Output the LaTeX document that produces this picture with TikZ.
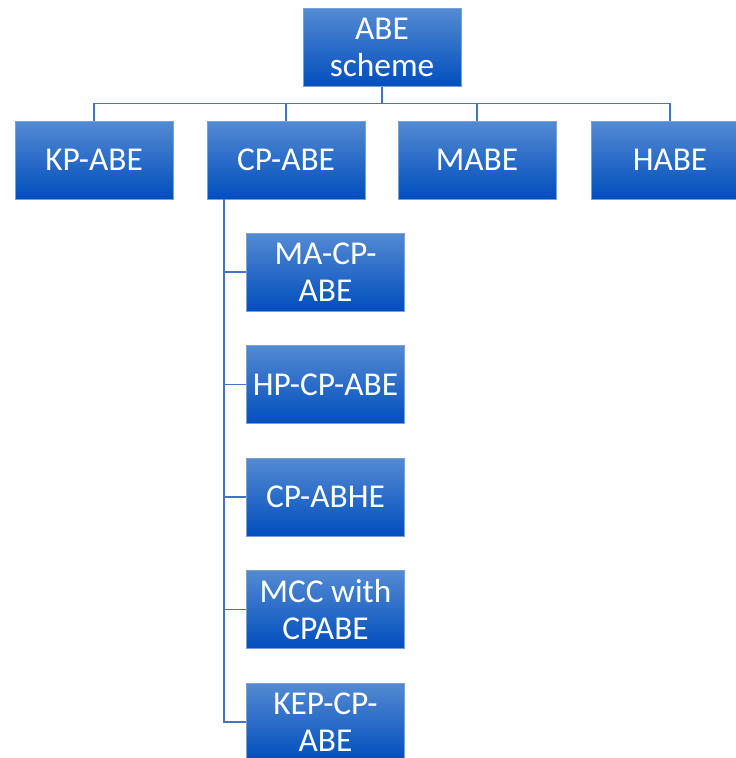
\documentclass[tikz,border=0pt]{standalone}
\usepackage{fontspec}
\setmainfont{Carlito}
\definecolor{boxtop}{RGB}{84,138,210}
\definecolor{boxbot}{RGB}{0,78,190}
\definecolor{boxline}{RGB}{120,160,215}
\definecolor{conn}{RGB}{68,114,196}
\begin{document}
\begin{tikzpicture}[x=0.75pt,y=-0.75pt,
  boxnode/.style={draw=boxline,line width=0.6pt,top color=boxtop,bottom color=boxbot,
    text=white,align=center,minimum width=118.5pt,minimum height=58.5pt,inner sep=0pt,
    font=\fontsize{25}{27.5}\selectfont},
  conline/.style={draw=conn,line width=1pt}]
\useasboundingbox (0,0) rectangle (736,758);
\begin{scope}
\clip (0,0) rectangle (736,758);
\node[boxnode] (root) at (382,47.5) {ABE\\scheme};
\node[boxnode] (kp) at (94,160) {KP-ABE};
\node[boxnode] (cp) at (286,160) {CP-ABE};
\node[boxnode] (mabe) at (477,160) {MABE};
\node[boxnode] (habe) at (670,160) {HABE};
\node[boxnode] (c1) at (325.5,272) {MA-CP-\\ABE};
\node[boxnode] (c2) at (325.5,384.5) {HP-CP-ABE};
\node[boxnode] (c3) at (325.5,497) {CP-ABHE};
\node[boxnode] (c4) at (325.5,609.5) {MCC with\\CPABE};
\node[boxnode] (c5) at (325.5,722) {KEP-CP-\\ABE};
\draw[conline] (kp.north) -- ++(0,-17) -| (habe.north);
\draw[conline] (root.south) -- ++(0,17);
\draw[conline] (cp.north) -- ++(0,-17);
\draw[conline] (mabe.north) -- ++(0,-17);
\coordinate (t) at (224,199);
\draw[conline] (t) |- (c5.west);
\foreach \c in {c1,c2,c3,c4} { \draw[conline] (t |- \c.west) -- (\c.west); }
\end{scope}
\end{tikzpicture}
\end{document}
